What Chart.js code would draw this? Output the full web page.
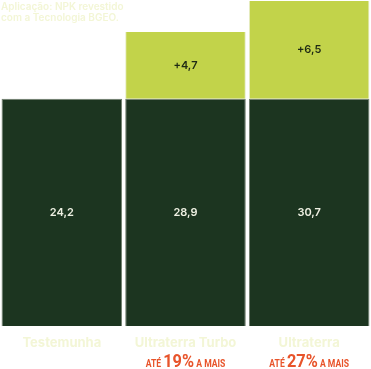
<!DOCTYPE html>
<html>
<head>
<meta charset="utf-8">
<script src="https://cdn.jsdelivr.net/npm/chart.js@4"></script>
<style>
  html, body { margin: 0; padding: 0; background: #ffffff; }
  #wrap { width: 371px; height: 369px; position: relative; }
</style>
</head>
<body>
<div id="wrap"><canvas id="chart"></canvas></div>
<script>
const categories = ['Testemunha', 'Ultraterra Turbo', 'Ultraterra'];
// values printed on the bars
const baseValues = [24.2, 28.9, 30.7];
const gainValues = [null, 4.7, 6.5];
// bar heights as drawn in the source graphic (dark blocks are equal height)
const baseHeights = [24.2, 24.2, 24.2];
const gainHeights = [0, 7.1, 10.4];
const gainPercent = [null, '19%', '27%'];
const titleLines = ['Aplicação: NPK revestido', 'com a Tecnologia BGEO.'];

const DARK = '#1c3520';
const LIGHT = '#c2d34a';
const PALE = '#f3f6d6';
const ORANGE = '#e8542b';

const fmt = v => v.toFixed(1).replace('.', ',');

const labelsPlugin = {
  id: 'labels',
  afterDatasetsDraw(chart) {
    const ctx = chart.ctx;
    const x = chart.scales.x;
    const y = chart.scales.y;
    const bottom = chart.chartArea.bottom;
    ctx.save();
    categories.forEach((c, i) => {
      const cx = x.getPixelForValue(i);
      ctx.textAlign = 'center';
      ctx.textBaseline = 'middle';
      ctx.font = '600 11px Inter';
      const midBase = (y.getPixelForValue(0) + y.getPixelForValue(baseHeights[i])) / 2;
      ctx.fillStyle = '#eef0e2';
      ctx.fillText(fmt(baseValues[i]), cx, midBase);
      if (gainValues[i] != null) {
        const mid = (y.getPixelForValue(baseHeights[i]) + y.getPixelForValue(baseHeights[i] + gainHeights[i])) / 2;
        ctx.fillStyle = '#1f2a14';
        ctx.fillText('+' + fmt(gainValues[i]), cx, mid);
      }
      // category name
      ctx.fillStyle = PALE;
      ctx.font = 'bold 13px Inter';
      ctx.fillText(c, cx, bottom + 17);
      // orange gain line, condensed by a horizontal squeeze
      if (gainPercent[i]) {
        const sq = 0.86;
        const small = 'bold 10px Roboto';
        const big = 'bold 19px Roboto';
        const parts = [['ATÉ ', small], [gainPercent[i], big], [' A MAIS', small]];
        let total = 0;
        parts.forEach(p => { ctx.font = p[1]; total += ctx.measureText(p[0]).width; });
        ctx.save();
        ctx.translate(cx, bottom + 41);
        ctx.scale(sq, 1);
        let px = -total / 2;
        ctx.textAlign = 'left';
        ctx.textBaseline = 'alphabetic';
        ctx.fillStyle = ORANGE;
        parts.forEach(p => {
          ctx.font = p[1];
          ctx.fillText(p[0], px, 0);
          px += ctx.measureText(p[0]).width;
        });
        ctx.restore();
      }
    });
    // title
    ctx.textAlign = 'left';
    ctx.textBaseline = 'alphabetic';
    ctx.fillStyle = PALE;
    ctx.font = '600 10px Inter';
    titleLines.forEach((t, k) => ctx.fillText(t, 1, 10 + k * 11));
    ctx.restore();
  }
};

new Chart(document.getElementById('chart'), {
  type: 'bar',
  data: {
    labels: categories,
    datasets: [
      {
        data: baseHeights,
        backgroundColor: DARK,
        borderColor: '#6f7d6c',
        borderWidth: 1,
        categoryPercentage: 1,
        barPercentage: 0.975
      },
      {
        data: gainHeights,
        backgroundColor: LIGHT,
        borderColor: '#e6ecc6',
        borderWidth: { top: 0, left: 1, right: 1, bottom: 0 },
        categoryPercentage: 1,
        barPercentage: 0.975
      }
    ]
  },
  options: {
    responsive: true,
    maintainAspectRatio: false,
    animation: false,
    layout: { padding: { top: 0, bottom: 43, left: -1, right: -1 } },
    scales: {
      x: { stacked: true, display: false },
      y: { stacked: true, display: false, min: 0, max: 34.7 }
    },
    plugins: {
      legend: { display: false },
      tooltip: { enabled: false }
    }
  },
  plugins: [labelsPlugin]
});
</script>
</body>
</html>
